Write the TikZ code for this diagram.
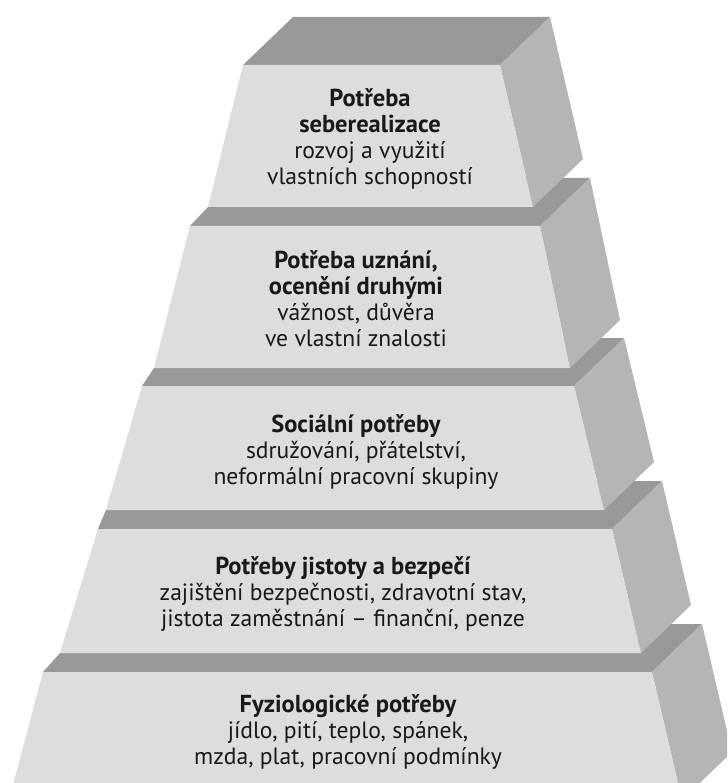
\documentclass[tikz,border=0pt]{standalone}
\usepackage{fontspec}
\setmainfont{PT Sans}
\definecolor{frontgray}{RGB}{221,221,221}
\definecolor{topgray}{RGB}{153,153,153}
\definecolor{sidegray}{RGB}{181,181,181}
\newcommand{\needtitle}[1]{{\fontsize{24.5}{26}\selectfont\bfseries #1}}
\begin{document}
\begin{tikzpicture}[x=1pt,y=-1pt,
  frontface/.style={fill=frontgray},
  topface/.style={fill=topgray},
  sideface/.style={fill=sidegray},
  needlabel/.style={align=center,inner sep=0pt,text=black!90,font=\fontsize{23.6}{26}\selectfont}]
\useasboundingbox (0,0) rectangle (727,783);
\clip (0,0) rectangle (727,783);
\fill[white] (0,0) rectangle (727,783);

% fyziologicke potreby
\fill[topface] (43,672)--(652,672)--(702,624)--(110,624)--(60,653)--cycle;
\fill[sideface] (652,672)--(702,624)--(732,752)--(682,800)--cycle;
\fill[frontface] (43,672)--(652,672)--(682,800)--(9,800)--cycle;

% jistota a bezpeci
\fill[topface] (98,529)--(612,529)--(662,481)--(156,481)--(106,510)--cycle;
\fill[sideface] (612,529)--(662,481)--(691,605)--(641,653)--cycle;
\fill[frontface] (98,529)--(612,529)--(641,653)--(60,653)--cycle;

% socialni potreby
\fill[topface] (142,386)--(574,386)--(624,338)--(204,338)--(154,368)--cycle;
\fill[sideface] (574,386)--(624,338)--(654,462)--(604,510)--cycle;
\fill[frontface] (142,386)--(574,386)--(604,510)--(106,510)--cycle;

% uznani
\fill[topface] (190,226)--(540,226)--(590,178)--(258,178)--(208,207)--cycle;
\fill[sideface] (540,226)--(590,178)--(620,320)--(570,368)--cycle;
\fill[frontface] (190,226)--(540,226)--(570,368)--(154,368)--cycle;

% seberealizace
\fill[topface] (243,65)--(500,65)--(550,17)--(293,17)--cycle;
\fill[sideface] (500,65)--(550,17)--(583,159)--(533,207)--cycle;
\fill[frontface] (243,65)--(500,65)--(533,207)--(208,207)--cycle;

\node[needlabel] (seberealizace) at (370,139) {\needtitle{Potřeba}\\\needtitle{seberealizace}\\rozvoj a využití\\vlastních schopností};
\node[needlabel] (uznani) at (356,299) {\needtitle{Potřeba uznání,}\\\needtitle{ocenění druhými}\\vážnost, důvěra\\ve vlastní znalosti};
\node[needlabel] (socialni) at (356,452) {\needtitle{Sociální potřeby}\\sdružování, přátelství,\\neformální pracovní skupiny};
\node[needlabel] (jistota) at (343,594) {\needtitle{Potřeby jistoty a bezpečí}\\zajištění bezpečnosti, zdravotní stav,\\jistota zaměstnání – finanční, penze};
\node[needlabel] (fyziologie) at (348,732) {\needtitle{Fyziologické potřeby}\\jídlo, pití, teplo, spánek,\\mzda, plat, pracovní podmínky};
\end{tikzpicture}
\end{document}
